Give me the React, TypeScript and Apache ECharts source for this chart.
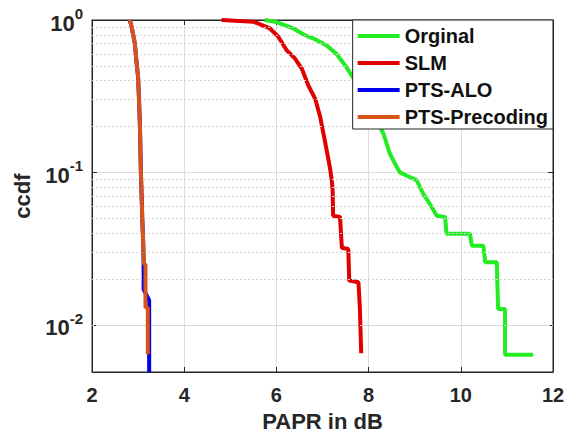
import React, { useEffect, useRef } from "react";
import * as echarts from "echarts";

// ---- data ----
const xTicks = [2, 4, 6, 8, 10, 12];
const yTickExponents = [-2, -1, 0];
const yMin = 0.0049;
const yMax = 1;
const minorGridValues = [
  0.006, 0.007, 0.008, 0.009,
  0.02, 0.03, 0.04, 0.05, 0.06, 0.07, 0.08, 0.09,
  0.2, 0.3, 0.4, 0.5, 0.6, 0.7, 0.8, 0.9,
];

const seriesNames = ["Orginal", "SLM", "PTS-ALO", "PTS-Precoding"];
const seriesColors = ["#22ec22", "#e00000", "#0000ee", "#d95319"];

const originalCurve: [number, number][] = [
  [5.75, 1.0], [6.0, 0.97], [6.37, 0.88], [6.6, 0.8], [6.87, 0.74], [7.09, 0.68],
  [7.3, 0.6], [7.52, 0.49], [7.8, 0.36], [8.05, 0.26], [8.32, 0.18], [8.46, 0.133],
  [8.6, 0.11], [8.68, 0.1], [8.83, 0.095], [9.04, 0.089], [9.19, 0.072], [9.33, 0.062],
  [9.48, 0.052], [9.66, 0.051], [9.69, 0.0395], [10.2, 0.0395], [10.24, 0.033],
  [10.49, 0.033], [10.53, 0.0257], [10.78, 0.0257], [10.81, 0.0127], [10.96, 0.0127],
  [10.96, 0.00635], [11.57, 0.00635],
];

const slmCurve: [number, number][] = [
  [4.81, 1.0], [5.5, 0.975], [5.86, 0.88], [6.04, 0.777], [6.22, 0.635], [6.4, 0.56],
  [6.55, 0.48], [6.69, 0.373], [6.84, 0.305], [6.95, 0.231], [7.02, 0.18], [7.09, 0.14],
  [7.16, 0.108], [7.2, 0.089], [7.22, 0.076], [7.23, 0.052], [7.38, 0.051], [7.42, 0.032],
  [7.56, 0.0314], [7.58, 0.0195], [7.78, 0.019], [7.81, 0.013], [7.84, 0.0065],
];

const ptsAloCurve: [number, number][] = [
  [2.82, 1.0], [2.86, 0.9], [2.9, 0.78], [2.93, 0.7], [2.96, 0.55], [3.0, 0.42],
  [3.02, 0.3], [3.04, 0.2], [3.06, 0.1], [3.08, 0.065], [3.09, 0.05], [3.11, 0.035],
  [3.12, 0.025], [3.12, 0.017], [3.24, 0.0145], [3.24, 0.0049],
];

const ptsPrecodingCurve: [number, number][] = [
  [2.82, 1.0], [2.86, 0.9], [2.9, 0.78], [2.93, 0.7], [2.96, 0.55], [3.0, 0.42],
  [3.02, 0.3], [3.04, 0.2], [3.06, 0.1], [3.08, 0.065], [3.09, 0.05], [3.11, 0.035],
  [3.13, 0.025], [3.16, 0.025], [3.16, 0.013], [3.21, 0.013], [3.21, 0.0064],
];

const curves = [originalCurve, slmCurve, ptsAloCurve, ptsPrecodingCurve];

const FONT = "'Liberation Sans', Arial, sans-serif";
const AXIS_COLOR = "#262626";

export default function App() {
  const ref = useRef<HTMLDivElement>(null);

  useEffect(() => {
    document.body.style.margin = "0";
    if (!ref.current) return;
    const chart = echarts.init(ref.current, undefined, { renderer: "svg" });

    const option: any = {
      animation: false,
      backgroundColor: "#ffffff",
      grid: {
        left: 92,
        right: 16,
        top: 20,
        bottom: 64,
        outerBoundsMode: "none",
        containLabel: false,
        show: true,
        borderColor: AXIS_COLOR,
        borderWidth: 1,
      },
      legend: {
        data: seriesNames.map((n) => ({ name: n, icon: "rect" })),
        orient: "vertical",
        right: 16,
        top: 20,
        backgroundColor: "#ffffff",
        borderColor: AXIS_COLOR,
        borderWidth: 1,
        borderRadius: 0,
        padding: [6, 5, 2, 5],
        itemGap: 7,
        itemWidth: 42,
        itemHeight: 4,
        textStyle: {
          fontFamily: FONT,
          fontWeight: "bold",
          fontSize: 20,
          color: "#111111",
          lineHeight: 20,
        },
        z: 10,
      },
      xAxis: [
        {
          type: "value",
          min: xTicks[0],
          max: xTicks[xTicks.length - 1],
          interval: xTicks[1] - xTicks[0],
          name: "PAPR in dB",
          nameLocation: "middle",
          nameGap: 38,
          nameTextStyle: {
            fontFamily: FONT,
            fontWeight: "bold",
            fontSize: 22,
            color: AXIS_COLOR,
          },
          axisLine: { show: true, onZero: false, lineStyle: { color: AXIS_COLOR, width: 1 } },
          axisTick: { show: true, inside: true, length: 5, lineStyle: { color: AXIS_COLOR } },
          axisLabel: {
            fontFamily: FONT,
            fontWeight: "bold",
            fontSize: 20,
            color: AXIS_COLOR,
            margin: 13,
          },
          splitLine: { show: true, lineStyle: { color: "#dcdcdc", width: 1 } },
        },
        {
          type: "value",
          position: "top",
          min: xTicks[0],
          max: xTicks[xTicks.length - 1],
          interval: xTicks[1] - xTicks[0],
          axisLine: { show: true, onZero: false, lineStyle: { color: AXIS_COLOR } },
          axisTick: { show: true, inside: true, length: 5, lineStyle: { color: AXIS_COLOR } },
          axisLabel: { show: false },
          splitLine: { show: false },
        },
      ],
      yAxis: [
        {
          type: "log",
          logBase: 10,
          min: yMin,
          max: yMax,
          name: "ccdf",
          nameLocation: "middle",
          nameGap: 59,
          nameTextStyle: {
            fontFamily: FONT,
            fontWeight: "bold",
            fontSize: 22,
            color: AXIS_COLOR,
          },
          axisLine: { show: true, onZero: false, lineStyle: { color: AXIS_COLOR, width: 1 } },
          axisTick: { show: true, inside: true, length: 5, lineStyle: { color: AXIS_COLOR } },
          axisLabel: {
            margin: 9,
            formatter: (v: number) => {
              const lg = Math.log10(v);
              const e = Math.round(lg);
              if (Math.abs(lg - e) > 1e-6 || !yTickExponents.includes(e)) return "";
              return `{b|10}{s|${e}}`;
            },
            rich: {
              b: {
                fontFamily: FONT,
                fontWeight: "bold",
                fontSize: 22,
                color: AXIS_COLOR,
                lineHeight: 28,
                verticalAlign: "bottom",
              },
              s: {
                fontFamily: FONT,
                fontWeight: "bold",
                fontSize: 15,
                color: AXIS_COLOR,
                lineHeight: 16,
                verticalAlign: "top",
              },
            },
          },
          splitLine: { show: true, lineStyle: { color: "#dcdcdc", width: 1 } },
        },
        {
          type: "log",
          logBase: 10,
          min: yMin,
          max: yMax,
          position: "right",
          axisLine: { show: true, onZero: false, lineStyle: { color: AXIS_COLOR } },
          axisTick: { show: true, inside: true, length: 5, lineStyle: { color: AXIS_COLOR } },
          axisLabel: { show: false },
          splitLine: { show: false },
        },
      ],
      series: [
        {
          name: "minor-grid",
          type: "line",
          data: [],
          silent: true,
          z: 1,
          markLine: {
            silent: true,
            symbol: ["none", "none"],
            label: { show: false },
            lineStyle: { type: [2, 2], color: "#d4d4d4", width: 1 },
            data: minorGridValues.map((v) => ({ yAxis: v })),
          },
        },
        ...curves.map((c, i) => ({
          name: seriesNames[i],
          type: "line",
          data: c,
          showSymbol: false,
          symbol: "none",
          color: seriesColors[i],
          itemStyle: { color: seriesColors[i] },
          lineStyle: { width: 4, color: seriesColors[i] },
          z: 2 + i,
        })),
      ],
    };

    chart.setOption(option);
    return () => chart.dispose();
  }, []);

  return <div ref={ref} style={{ width: 569, height: 436 }} />;
}
